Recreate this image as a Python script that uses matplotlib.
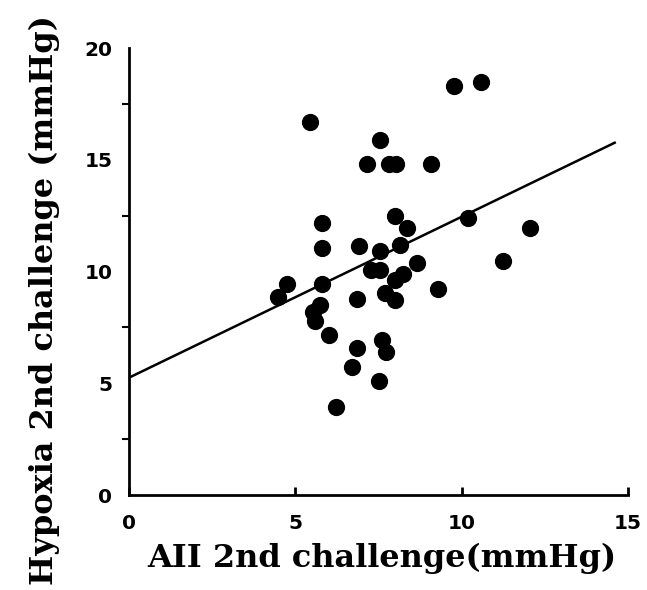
import matplotlib
matplotlib.use("Agg")
import matplotlib.pyplot as plt
import numpy as np

# AII 2nd challenge (x) vs Hypoxia 2nd challenge (y), mmHg
aii = [5.45, 9.76, 10.57, 7.56, 7.14, 7.83, 8.04, 9.07,
       8.01, 8.37, 5.81, 10.18, 5.81, 6.90, 7.56, 8.16,
       8.67, 11.23, 7.26, 7.56, 8.01, 8.25, 9.28, 4.76,
       4.49, 5.81, 6.84, 7.71, 8.01, 5.75, 5.54, 5.60,
       6.02, 7.62, 7.74, 6.84, 6.69, 7.53, 6.23, 12.05]
hypoxia = [16.7, 18.3, 18.5, 15.9, 14.8, 14.8, 14.8, 14.8,
           12.47, 11.93, 12.15, 12.38, 11.03, 11.12, 10.94, 11.17,
           10.36, 10.45, 10.09, 10.09, 9.6, 9.91, 9.24, 9.42,
           8.88, 9.46, 8.79, 9.06, 8.74, 8.5, 8.2, 7.8,
           7.17, 6.95, 6.41, 6.59, 5.74, 5.11, 3.95, 11.93]

# regression line
fit_x = [0, 14.6]
intercept = 5.25
slope = 0.72

xticks = [0, 5, 10, 15]
yticks = [0, 5, 10, 15, 20]
yminor = [2.5, 7.5, 12.5, 17.5]

fig = plt.figure(figsize=(6.47, 5.90), dpi=100)
ax = fig.add_axes([0.1994, 0.161, 0.7712, 0.7576])

ax.scatter(aii, hypoxia, s=130, color='black', zorder=3)
fx = np.array(fit_x)
ax.plot(fx, intercept + slope * fx, color='black', lw=1.8)

ax.set_xlim(0, 15)
ax.set_ylim(0, 20)
for s in ['top', 'right']:
    ax.spines[s].set_visible(False)
for s in ['left', 'bottom']:
    ax.spines[s].set_linewidth(2)

ax.set_xticks(xticks)
ax.set_yticks(yticks)
ax.set_yticks(yminor, minor=True)
ax.tick_params(axis='x', direction='in', length=6, width=2, pad=14)
ax.tick_params(axis='y', which='major', length=0, pad=12)
ax.tick_params(axis='y', which='minor', direction='out', length=5, width=1.5)
for lab in ax.get_xticklabels() + ax.get_yticklabels():
    lab.set_fontsize(14.5)
    lab.set_fontweight('bold')

# axis titles placed in figure pixels
fig.text(147 / 647, 1 - 567 / 590, 'AII 2nd challenge(mmHg)', fontsize=23,
         fontweight='bold', family='DejaVu Serif', ha='left', va='baseline')
fig.text(53 / 647, 1 - 300 / 590, 'Hypoxia 2nd challenge (mmHg)', fontsize=23,
         fontweight='bold', family='DejaVu Serif', rotation=90,
         rotation_mode='anchor', ha='center', va='baseline')

fig.savefig('out.png', dpi=100)
